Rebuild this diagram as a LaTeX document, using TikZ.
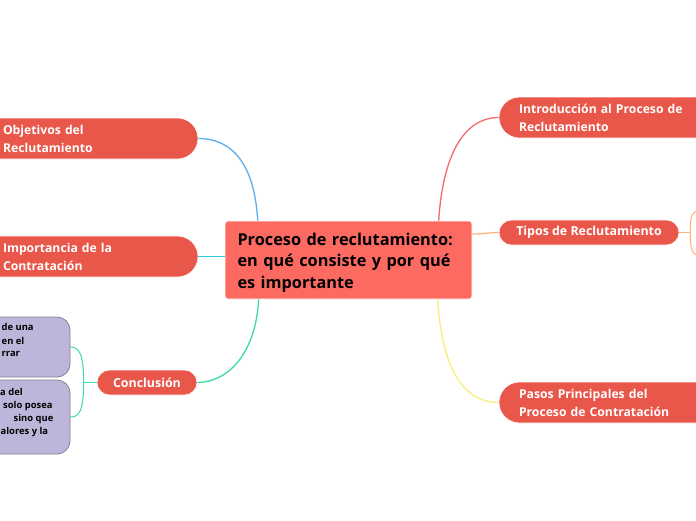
\documentclass[tikz,border=0pt]{standalone}
\usepackage{fontspec}
\setmainfont{Open Sans}
\usetikzlibrary{calc}
\definecolor{centralfill}{HTML}{FD6A62}
\definecolor{childfill}{HTML}{E9574A}
\definecolor{purplefill}{HTML}{BEB6DA}
\definecolor{purpleline}{HTML}{85808F}
\definecolor{cblue}{HTML}{5BAEEF}
\definecolor{ccyan}{HTML}{2FC8D8}
\definecolor{cgreen}{HTML}{3DDBA3}
\definecolor{cred}{HTML}{F26B6B}
\definecolor{corange}{HTML}{FFB27A}
\definecolor{cyellow}{HTML}{F7EF7A}
\tikzset{
  central/.style={fill=centralfill, draw=white, line width=0.6pt, rounded corners=3pt, inner sep=0pt,
    minimum width=247pt, minimum height=78pt, align=left, text=black,
    font=\fontsize{16.3}{21.5}\selectfont\bfseries},
  child/.style={fill=childfill, draw=white, line width=0.6pt, rounded corners=20.5pt, inner sep=0pt,
    minimum height=41pt, align=left, text=white,
    font=\fontsize{12.2}{18}\selectfont\bfseries},
  pill/.style={fill=childfill, draw=white, line width=0.6pt, rounded corners=12.5pt, inner sep=0pt,
    minimum height=25pt, text=white,
    font=\fontsize{12.4}{14}\selectfont\bfseries},
  leafbox/.style={fill=purplefill, draw=purpleline, line width=0.8pt, rounded corners=13pt, inner sep=0pt},
  leaftext/.style={anchor=base west, inner sep=0pt, text=black, font=\fontsize{9.4}{11}\selectfont\bfseries},
  conn/.style={line width=1.3pt},
}
\begin{document}
\begin{tikzpicture}[x=1pt,y=-1pt]
\useasboundingbox (0,0) rectangle (696,520);
\clip (0,0) rectangle (696,520);
\fill[white] (0,0) rectangle (696,520);

% central
\node[central, text width=222pt] (central) at (348.5,260) {\rule{0pt}{17pt}Proceso de reclutamiento:\\en qué consiste y por qué\\es importante};

% right children
\node[child, minimum width=260pt, text width=220pt] (intro) at (629,117.5) {Introducción al Proceso de\\Reclutamiento};
\node[pill, minimum width=180pt] (tipos) at (589,232.5) {Tipos de Reclutamiento};
\node[child, minimum width=260pt, text width=220pt] (pasos) at (629,402.5) {Pasos Principales del\\Proceso de Contratación};

% left children
\node[child, minimum width=238pt, text width=152pt] (obj) at (79,138.5) {Objetivos del\\Reclutamiento};
\node[child, minimum width=238pt, text width=152pt] (imp) at (79,256.5) {Importancia de la\\Contratación};
\node[pill, minimum width=100pt] (concl) at (147,382.5) {Conclusión};

% purple leaves
\node[leafbox, minimum width=110pt, minimum height=60pt] (leafa) at (15,347) {};
\node[leafbox, minimum width=110pt, minimum height=74pt] (leafb) at (15,417) {};
\node[leaftext] (la1) at (1.5,330.5) {de una};
\node[leaftext] (la2) at (1.5,344) {en el};
\node[leaftext] (la3) at (1.5,356.5) {rrar};
\node[leaftext] (lb1) at (0,395) {a del};
\node[leaftext] (lb2) at (3,408) {solo posea};
\node[leaftext] (lb3) at (13.5,421.5) {sino que};
\node[leaftext] (lb4) at (0.5,434) {alores y la};

% connectors
\coordinate (ctl) at ($(central.north west)+(33,0)$);
\coordinate (ctr) at ($(central.north west)+(214,0)$);
\coordinate (cbl) at ($(central.south west)+(34,0)$);
\coordinate (cbr) at ($(central.south west)+(213,0)$);
\draw[conn, cblue] (ctl) .. controls ($(ctl)+(-3,-55)$) and ($(obj.east)+(35,0)$) .. (obj.east);
\draw[conn, ccyan] (imp.east) -- (imp.east -| central.west);
\draw[conn, cgreen] (cbl) .. controls ($(cbl)+(-3,55)$) and ($(concl.east)+(30,0)$) .. (concl.east);
\draw[conn, cred] (ctr) .. controls ($(ctr)+(4,-65)$) and ($(intro.west)+(-35,0)$) .. (intro.west);
\draw[conn, corange] ($(central.east)+(0,-26)$) .. controls ($(central.east)+(14,-26)$) and ($(tipos.west)+(-12,0)$) .. (tipos.west);
\draw[conn, cyellow] (cbr) .. controls ($(cbr)+(4,70)$) and ($(pasos.west)+(-35,0)$) .. (pasos.west);

% tipos right brace
\coordinate (tb) at ($(tipos.east)+(11,0)$);
\coordinate (tbu) at (700,211);
\coordinate (tbd) at (700,255);
\draw[conn, corange, line width=1pt] (tipos.east) -- (tb);
\draw[conn, corange, line width=1pt] (tb) .. controls ($(tb)+(0,-18)$) and ($(tbu)+(-8,0)$) .. (tbu);
\draw[conn, corange, line width=1pt] (tb) .. controls ($(tb)+(0,18)$) and ($(tbd)+(-8,0)$) .. (tbd);

% conclusion brace
\coordinate (cb) at ($(concl.west)+(-13,0)$);
\draw[cgreen, line width=1pt] (concl.west) -- (cb);
\draw[cgreen, line width=1pt] (cb) .. controls ($(cb)+(0,-30)$) and ($(leafa.east)+(8,0)$) .. (leafa.east);
\draw[cgreen, line width=1pt] (cb) .. controls ($(cb)+(0,30)$) and ($(leafb.east)+(8,0)$) .. (leafb.east);
\end{tikzpicture}
\end{document}
